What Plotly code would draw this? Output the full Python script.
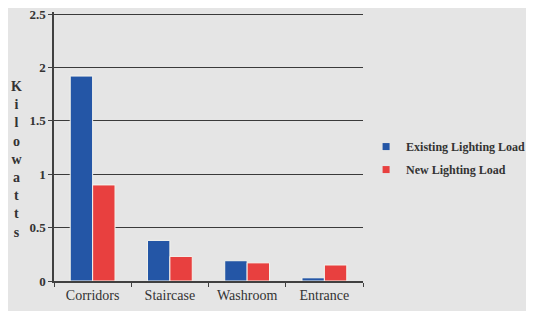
import plotly.graph_objects as go

categories = ["Corridors", "Staircase", "Washroom", "Entrance"]
existing_load = [1.92, 0.38, 0.19, 0.03]
new_load = [0.90, 0.23, 0.17, 0.15]
y_ticks = [0, 0.5, 1, 1.5, 2, 2.5]
y_tick_labels = ["0", "0.5", "1", "1.5", "2", "2.5"]
series_names = ["Existing Lighting Load", "New Lighting Load"]
series_colors = ["#2456a6", "#e8403f"]

font_family = "Liberation Serif, DejaVu Serif, serif"
text_color = "#333333"

fig = go.Figure()
for name, vals, col in zip(series_names, [existing_load, new_load], series_colors):
    fig.add_trace(go.Bar(name=name, x=categories, y=vals, showlegend=False,
                         marker=dict(color=col, line=dict(color="#f4f4ee", width=1))))
for name, col in zip(series_names, series_colors):
    fig.add_trace(go.Scatter(name=name, x=[None], y=[None], mode="markers", legendgroup=name,
                             marker=dict(symbol="square", size=7, color=col)))

fig.update_layout(
    width=526, height=303,
    margin=dict(l=46, r=171, t=4, b=30, autoexpand=False),
    paper_bgcolor="#e5e5e5", plot_bgcolor="#e5e5e5",
    barmode="group", bargap=0.42, bargroupgap=0,
    font=dict(family=font_family, size=13, color=text_color),
    legend=dict(x=1.01, y=0.457, xanchor="left", yanchor="middle",
                font=dict(size=12, color=text_color, family=font_family, weight="bold"),
                bgcolor="rgba(0,0,0,0)", itemwidth=30, tracegroupgap=4),
    showlegend=True,
)
fig.update_xaxes(showline=True, linecolor="#404040", linewidth=1.5,
                 ticks="outside", tickson="boundaries", ticklen=4, tickcolor="#404040",
                 tickfont=dict(size=14, color=text_color), showgrid=False)
fig.update_yaxes(range=[0, 2.52], tickvals=y_ticks, ticktext=y_tick_labels,
                 showline=True, linecolor="#404040", linewidth=1.5,
                 ticks="outside", ticklen=4, tickcolor="#404040", ticklabeloverflow="allow",
                 showgrid=True, gridcolor="#3a3a3a", gridwidth=1, zeroline=False,
                 tickfont=dict(size=13, color=text_color, weight="bold"))

fig.add_annotation(text="<br>".join(list("Kilowatts")), xref="paper", yref="paper",
                   x=-0.12, y=0.453, xanchor="center", yanchor="middle", showarrow=False,
                   font=dict(size=14, color=text_color, family=font_family, weight="bold"),
                   align="center")

fig.write_html("out.html")
